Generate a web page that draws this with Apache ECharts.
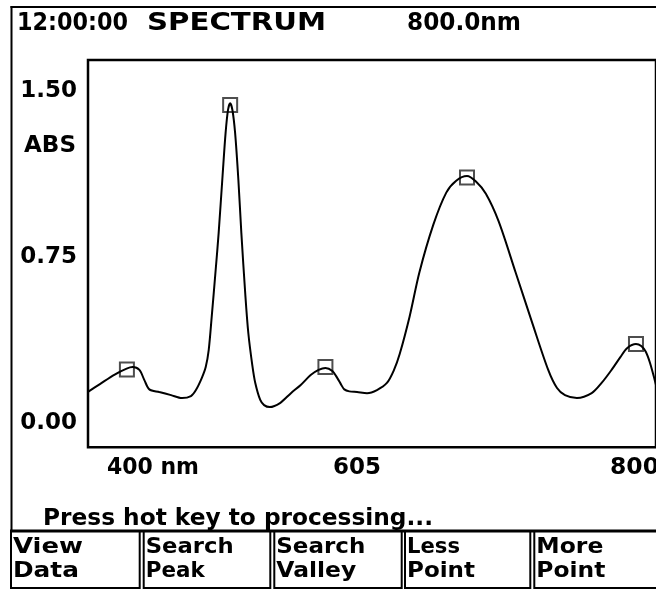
<!DOCTYPE html>
<html>
<head>
<meta charset="utf-8">
<title>SPECTRUM</title>
<script src="https://cdn.jsdelivr.net/npm/echarts@6/dist/echarts.min.js"></script>
<style>
  html, body { margin: 0; padding: 0; background: #fff; }
  #spectrum { width: 656px; height: 589px; }
</style>
</head>
<body>
<div id="spectrum"></div>
<script>
// scanned spectrum (nm / ABS)
var wavelength = [400.0, 408.4, 418.8, 427.2, 431.4, 436.2, 439.7, 443.2, 450.2, 458.5,
    466.2, 472.5, 476.0, 480.1, 482.9, 485.0, 487.1, 489.9, 492.0, 494.8,
    496.9, 498.6, 500.1, 501.7, 503.6, 505.9, 508.0, 510.8, 512.9, 515.7,
    517.8, 521.3, 524.0, 528.0, 535.2, 542.9, 549.8, 556.8, 562.4, 567.2,
    572.1, 575.6, 578.4, 580.5, 584.0, 589.5, 596.5, 603.5, 610.5, 615.3,
    619.5, 626.5, 633.4, 643.2, 652.3, 659.3, 666.9, 673.2, 680.2, 689.2,
    701.1, 712.9, 724.1, 730.3, 735.9, 744.3, 754.7, 761.7, 768.7, 774.9,
    779.8, 785.9, 789.6, 792.8, 795.8, 800.0];
var absorbance = [0.139, 0.174, 0.217, 0.244, 0.251, 0.238, 0.192, 0.150, 0.138, 0.124,
    0.111, 0.120, 0.147, 0.201, 0.251, 0.328, 0.477, 0.690, 0.857, 1.120,
    1.310, 1.414, 1.444, 1.414, 1.310, 1.097, 0.857, 0.577, 0.405, 0.260,
    0.179, 0.102, 0.079, 0.070, 0.088, 0.133, 0.170, 0.215, 0.238, 0.247,
    0.233, 0.201, 0.170, 0.150, 0.141, 0.138, 0.133, 0.147, 0.179, 0.235,
    0.310, 0.480, 0.680, 0.895, 1.040, 1.094, 1.115, 1.090, 1.035, 0.910,
    0.680, 0.450, 0.238, 0.156, 0.124, 0.111, 0.133, 0.179, 0.238, 0.296,
    0.337, 0.355, 0.346, 0.320, 0.269, 0.170];

// peak markers
var peakWavelength = [427.4, 500.1, 567.2, 666.9, 785.9];
var peakAbsorbance = [0.240, 1.437, 0.251, 1.108, 0.355];

// axis labels
var yTicks = [0, 0.75, 1.5];
var yName = 'ABS';
var xTickLabels = ['400 nm', '605', '800'];

// screen texts
var headerTexts = ['12:00:00', 'SPECTRUM', '800.0nm'];
var promptText = 'Press hot key to processing...';
var buttonTop = ['View', 'Search', 'Search', 'Less', 'More'];
var buttonBottom = ['Data', 'Peak', 'Valley', 'Point', 'Point'];

var FONT = '"DejaVu Sans"';
var measureCtx = document.createElement('canvas').getContext('2d');

// text element, optionally stretched to a given width
function screenText(str, x, cy, size, width, z) {
    var font = 'bold ' + size + 'px ' + FONT;
    measureCtx.font = font;
    var w = measureCtx.measureText(str).width;
    return {
        type: 'text',
        x: x,
        y: cy,
        scaleX: width ? width / w : 1,
        z: z || 10,
        silent: true,
        style: {
            text: str,
            font: font,
            fill: '#000',
            align: 'left',
            verticalAlign: 'middle',
            textAlign: 'left',
            textVerticalAlign: 'middle'
        }
    };
}

var graphics = [];

// outer frame (top + left)
graphics.push({ type: 'line', z: 5, silent: true,
    shape: { x1: 10.5, y1: 7, x2: 660, y2: 7 }, style: { stroke: '#000', lineWidth: 2 } });
graphics.push({ type: 'line', z: 5, silent: true,
    shape: { x1: 11.5, y1: 6, x2: 11.5, y2: 531 }, style: { stroke: '#000', lineWidth: 2 } });

// header
var headerX = [17, 147, 407];
var headerW = [111, 179, 114];
headerTexts.forEach(function (t, i) {
    graphics.push(screenText(t, headerX[i], 24, 24, headerW[i]));
});

// axis name
graphics.push(screenText(yName, 24, 146, 23, 52));

// x tick labels
var xLabelX = [107, 333, 610];
var xLabelW = [92, 48, 49];
xTickLabels.forEach(function (t, i) {
    graphics.push(screenText(t, xLabelX[i], 468.5, 23, xLabelW[i]));
});

// prompt (bottom gets covered by the key boxes)
graphics.push(screenText(promptText, 43, 519, 23, 390));

// soft keys
var boxLeft = [11, 143.7, 274.3, 405, 534.3];
var boxRight = [139.7, 270.3, 401.7, 530.3, 664];
var topW = [70, 88, 89, 53, 67];
var bottomW = [66, 59, 80, 68, 69];
graphics.push({ type: 'line', z: 25, silent: true,
    shape: { x1: 10, y1: 531, x2: 664, y2: 531 }, style: { stroke: '#000', lineWidth: 3 } });
boxLeft.forEach(function (l, i) {
    graphics.push({ type: 'rect', z: 20, silent: true,
        shape: { x: l, y: 531, width: boxRight[i] - l, height: 57 },
        style: { fill: '#fff', stroke: '#000', lineWidth: 2 } });
    graphics.push(screenText(buttonTop[i], l + 2, 547.5, 22, topW[i], 30));
    graphics.push(screenText(buttonBottom[i], l + 2, 571, 22, bottomW[i], 30));
});

var option = {
    animation: false,
    backgroundColor: '#fff',
    grid: {
        left: 88,
        top: 60,
        width: 574,
        height: 387.3,
        show: true,
        borderColor: '#000',
        borderWidth: 2.5,
        backgroundColor: 'transparent'
    },
    xAxis: {
        type: 'value',
        min: 400,
        max: 800,
        axisLine: { show: false },
        axisTick: { show: false },
        axisLabel: { show: false },
        splitLine: { show: false }
    },
    yAxis: {
        type: 'value',
        min: -0.112,
        max: 1.64,
        axisLine: { show: false },
        axisTick: { show: false },
        splitLine: { show: false },
        axisLabel: {
            customValues: yTicks,
            formatter: function (v) { return v.toFixed(2); },
            margin: 11,
            color: '#000',
            fontFamily: 'DejaVu Sans',
            fontWeight: 'bold',
            fontSize: 23
        }
    },
    series: [{
        type: 'line',
        data: wavelength.map(function (w, i) { return [w, absorbance[i]]; }),
        showSymbol: false,
        smooth: 0.3,
        lineStyle: { color: '#000', width: 2 },
        silent: true
    }, {
        type: 'scatter',
        data: peakWavelength.map(function (w, i) { return [w, peakAbsorbance[i]]; }),
        symbol: 'rect',
        symbolSize: 14,
        itemStyle: { color: 'rgba(0,0,0,0)', borderColor: '#222', borderWidth: 2 },
        silent: true
    }],
    graphic: { elements: graphics }
};

var chart = echarts.init(document.getElementById('spectrum'));
chart.setOption(option);
</script>
</body>
</html>
